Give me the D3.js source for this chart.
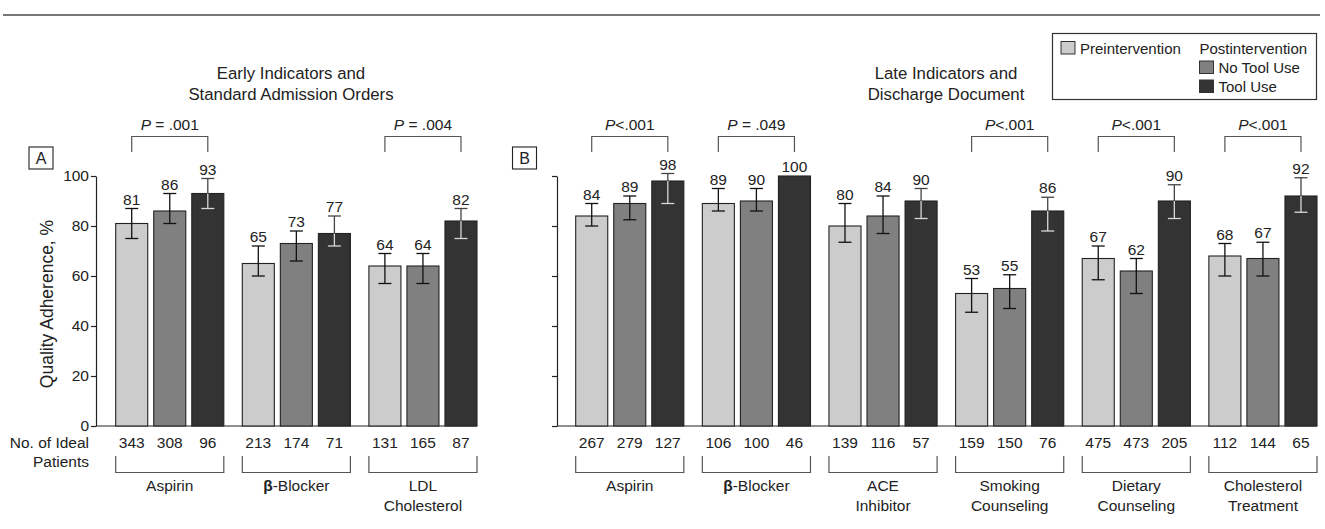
<!DOCTYPE html>
<html>
<head>
<meta charset="utf-8">
<script src="https://cdn.jsdelivr.net/npm/d3@7/dist/d3.min.js"></script>
<style>
  body { margin: 0; background: #fff; }
  svg { font-family: "Liberation Sans", Arial, sans-serif; }
  text { fill: #222; }
</style>
</head>
<body>
<div id="chart"></div>
<script>

// series (bar colours follow this order)
const seriesNames = ["Preintervention", "No Tool Use", "Tool Use"];

// panel A - early indicators
const catsA = [["Aspirin"], ["β-Blocker"], ["LDL", "Cholesterol"]];
const valuesA = [[81, 86, 93], [65, 73, 77], [64, 64, 82]];
const lowA = [[75, 81, 87], [60, 66, 72], [57, 57, 75]];
const highA = [[87, 93, 99], [72, 78, 84], [69, 69, 87]];
const nA = [[343, 308, 96], [213, 174, 71], [131, 165, 87]];
const pA = [" = .001", null, " = .004"];

// panel B - late indicators
const catsB = [["Aspirin"], ["β-Blocker"], ["ACE", "Inhibitor"], ["Smoking", "Counseling"],
               ["Dietary", "Counseling"], ["Cholesterol", "Treatment"]];
const valuesB = [[84, 89, 98], [89, 90, 100], [80, 84, 90], [53, 55, 86], [67, 62, 90], [68, 67, 92]];
const lowB = [[80, 82.5, 89], [86, 86, null], [73.5, 77, 83], [45.5, 47, 78], [58.5, 53, 83], [60, 60, 85.5]];
const highB = [[89, 92, 101], [95, 95, null], [89, 92, 95], [59, 60.5, 91.5], [72, 67, 96.5], [73, 73.5, 99.3]];
const nB = [[267, 279, 127], [106, 100, 46], [139, 116, 57], [159, 150, 76], [475, 473, 205], [112, 144, 65]];
const pB = ["<.001", " = .049", null, "<.001", "<.001", "<.001"];

const yTicks = [0, 20, 40, 60, 80, 100];

const W = 1325, H = 529;
const fills = ["#cccccc", "#808080", "#333333"];

const svg = d3.select("#chart").append("svg")
    .attr("width", W)
    .attr("height", H);

// rule at top of page
svg.append("line")
    .attr("x1", 3).attr("x2", 1320)
    .attr("y1", 15).attr("y2", 15)
    .attr("stroke", "#777")
    .attr("stroke-width", 2);

const y = d3.scaleLinear().domain([0, 100]).range([426, 176]);

function drawPanel(opt) {
  const g = svg.append("g");
  const idx = d3.range(opt.cats.length);

  const x0 = d3.scaleBand()
      .domain(idx)
      .range([opt.barsLeft, opt.right])
      .paddingInner(0.146)
      .paddingOuter(0);

  const x1 = d3.scaleBand()
      .domain(d3.range(seriesNames.length))
      .range([0, x0.bandwidth()])
      .paddingInner(0.158);

  // y axis
  const axis = d3.axisLeft(y)
      .tickValues(yTicks)
      .tickSize(5)
      .tickSizeOuter(0)
      .tickPadding(2)
      .tickFormat(opt.labels ? d3.format("d") : "");

  const ax = g.append("g")
      .attr("transform", "translate(" + opt.axisX + ",0)")
      .call(axis);
  ax.selectAll("path, line").attr("stroke", "#222").attr("stroke-width", 1.2);
  ax.selectAll("text")
      .attr("font-size", 15.5)
      .attr("font-family", "Liberation Sans, Arial, sans-serif")
      .attr("fill", "#222");

  // baseline
  g.append("line")
      .attr("x1", opt.axisX).attr("x2", opt.right)
      .attr("y1", y(0)).attr("y2", y(0))
      .attr("stroke", "#222")
      .attr("stroke-width", 1.2);

  const groups = g.selectAll(".grp")
      .data(idx)
      .enter().append("g")
      .attr("class", "grp")
      .attr("transform", function(i) { return "translate(" + x0(i) + ",0)"; });

  const bars = groups.selectAll(".bar")
      .data(function(i) {
        return opt.values[i].map(function(v, s) {
          return { s: s, v: v, lo: opt.low[i][s], hi: opt.high[i][s], n: opt.n[i][s] };
        });
      })
      .enter().append("g")
      .attr("class", "bar");

  bars.append("rect")
      .attr("x", function(d) { return x1(d.s); })
      .attr("y", function(d) { return y(d.v); })
      .attr("width", x1.bandwidth())
      .attr("height", function(d) { return y(0) - y(d.v); })
      .attr("fill", function(d) { return fills[d.s]; })
      .attr("stroke", "#222")
      .attr("stroke-width", 1.1);

  const cap = 6.5;
  const eb = bars.filter(function(d) { return d.lo != null; });
  const cx = function(d) { return x1(d.s) + x1.bandwidth() / 2; };

  // part of the error bar above the bar top
  eb.append("line")
      .attr("x1", cx).attr("x2", cx)
      .attr("y1", function(d) { return y(d.hi); })
      .attr("y2", function(d) { return y(d.v); })
      .attr("stroke", function(d) { return d.s == 2 ? "#444" : "#111"; })
      .attr("stroke-width", 1.3);
  // part inside the bar
  eb.append("line")
      .attr("x1", cx).attr("x2", cx)
      .attr("y1", function(d) { return y(d.v); })
      .attr("y2", function(d) { return y(d.lo); })
      .attr("stroke", function(d) { return d.s == 2 ? "#d8d8d8" : "#111"; })
      .attr("stroke-width", 1.3);
  eb.append("line")
      .attr("x1", function(d) { return cx(d) - cap; })
      .attr("x2", function(d) { return cx(d) + cap; })
      .attr("y1", function(d) { return y(d.hi); })
      .attr("y2", function(d) { return y(d.hi); })
      .attr("stroke", function(d) { return d.s == 2 ? "#444" : "#111"; })
      .attr("stroke-width", 1.3);
  eb.append("line")
      .attr("x1", function(d) { return cx(d) - cap; })
      .attr("x2", function(d) { return cx(d) + cap; })
      .attr("y1", function(d) { return y(d.lo); })
      .attr("y2", function(d) { return y(d.lo); })
      .attr("stroke", function(d) { return d.s == 2 ? "#d8d8d8" : "#111"; })
      .attr("stroke-width", 1.3);

  // value labels
  bars.append("text")
      .attr("x", cx)
      .attr("y", function(d) { return y(d.hi != null ? d.hi : d.v) - 4; })
      .attr("text-anchor", "middle")
      .attr("font-size", 15.5)
      .text(function(d) { return d.v; });

  // patient counts
  bars.append("text")
      .attr("x", cx)
      .attr("y", 447.5)
      .attr("text-anchor", "middle")
      .attr("font-size", 15.5)
      .text(function(d) { return d.n; });

  // bracket under each group
  groups.append("path")
      .attr("d", "M0,456V472.5H" + x0.bandwidth() + "V456")
      .attr("fill", "none")
      .attr("stroke", "#555")
      .attr("stroke-width", 1.2);

  // category labels
  const cl = groups.append("text")
      .attr("text-anchor", "middle")
      .attr("font-size", 15.5);
  cl.selectAll("tspan")
      .data(function(i) { return opt.cats[i].map(function(t, k) { return { t: t, k: k }; }); })
      .enter().append("tspan")
      .attr("x", x0.bandwidth() / 2)
      .attr("y", function(d) { return 491 + d.k * 19.5; })
      .each(function(d) {
        const el = d3.select(this);
        if (d.t.charAt(0) == "β") {
          el.append("tspan").attr("font-weight", "bold").text("β");
          el.append("tspan").text(d.t.slice(1));
        } else {
          el.text(d.t);
        }
      });

  // P value brackets
  const pg = groups.filter(function(i) { return opt.p[i] != null; });
  const c0 = x1(0) + x1.bandwidth() / 2;
  const c2 = x1(2) + x1.bandwidth() / 2;
  pg.append("path")
      .attr("d", "M" + c0 + ",152V136.5H" + c2 + "V152")
      .attr("fill", "none")
      .attr("stroke", "#555")
      .attr("stroke-width", 1.2);
  const pt = pg.append("text")
      .attr("x", (c0 + c2) / 2)
      .attr("y", 129.5)
      .attr("text-anchor", "middle")
      .attr("font-size", 15.5)
      .attr("xml:space", "preserve")
      .style("white-space", "pre");
  pt.append("tspan").attr("font-style", "italic").text("P");
  pt.append("tspan").text(function(i) { return opt.p[i]; });

  // panel title
  const tt = g.append("text")
      .attr("text-anchor", "middle")
      .attr("font-size", 16.8);
  opt.title.forEach(function(t, k) {
    tt.append("tspan").attr("x", opt.titleX).attr("y", 78.5 + k * 21).text(t);
  });

  // panel letter
  g.append("rect")
      .attr("x", opt.letterX).attr("y", 147)
      .attr("width", 24).attr("height", 22)
      .attr("fill", "none")
      .attr("stroke", "#222")
      .attr("stroke-width", 1.1);
  g.append("text")
      .attr("x", opt.letterX + 12).attr("y", 164)
      .attr("text-anchor", "middle")
      .attr("font-size", 16)
      .text(opt.letter);
}

drawPanel({
  cats: catsA, values: valuesA, low: lowA, high: highA, n: nA, p: pA,
  axisX: 96, barsLeft: 115.7, right: 477, labels: true,
  title: ["Early Indicators and", "Standard Admission Orders"], titleX: 291,
  letter: "A", letterX: 29
});

drawPanel({
  cats: catsB, values: valuesB, low: lowB, high: highB, n: nB, p: pB,
  axisX: 557, barsLeft: 575.7, right: 1317, labels: false,
  title: ["Late Indicators and", "Discharge Document"], titleX: 946,
  letter: "B", letterX: 512.5
});

// y axis title
svg.append("text")
    .attr("transform", "translate(53,304) rotate(-90)")
    .attr("text-anchor", "middle")
    .attr("font-size", 17.5)
    .text("Quality Adherence, %");

// row label for counts
svg.append("text")
    .attr("x", 89).attr("y", 447.5)
    .attr("text-anchor", "end")
    .attr("font-size", 15.5)
    .text("No. of Ideal");
svg.append("text")
    .attr("x", 89).attr("y", 467)
    .attr("text-anchor", "end")
    .attr("font-size", 15.5)
    .text("Patients");

// legend
const lg = svg.append("g");
lg.append("rect")
    .attr("x", 1052.5).attr("y", 33.5)
    .attr("width", 264).attr("height", 66)
    .attr("fill", "#fff")
    .attr("stroke", "#333")
    .attr("stroke-width", 1.2);

const legendItems = [
  { s: 0, x: 1061, y: 41.5, label: seriesNames[0] },
  { s: 1, x: 1199.5, y: 61, label: seriesNames[1] },
  { s: 2, x: 1199.5, y: 80, label: seriesNames[2] }
];
lg.selectAll(".sw")
    .data(legendItems)
    .enter().append("rect")
    .attr("x", function(d) { return d.x; })
    .attr("y", function(d) { return d.y; })
    .attr("width", 14).attr("height", 12.5)
    .attr("fill", function(d) { return fills[d.s]; })
    .attr("stroke", "#333")
    .attr("stroke-width", 1);
lg.selectAll(".lt")
    .data(legendItems)
    .enter().append("text")
    .attr("x", function(d) { return d.x + 19; })
    .attr("y", function(d) { return d.y + 12; })
    .attr("font-size", 15)
    .text(function(d) { return d.label; });
lg.append("text")
    .attr("x", 1199.5).attr("y", 53.5)
    .attr("font-size", 15)
    .text("Postintervention");

</script>
</body>
</html>
